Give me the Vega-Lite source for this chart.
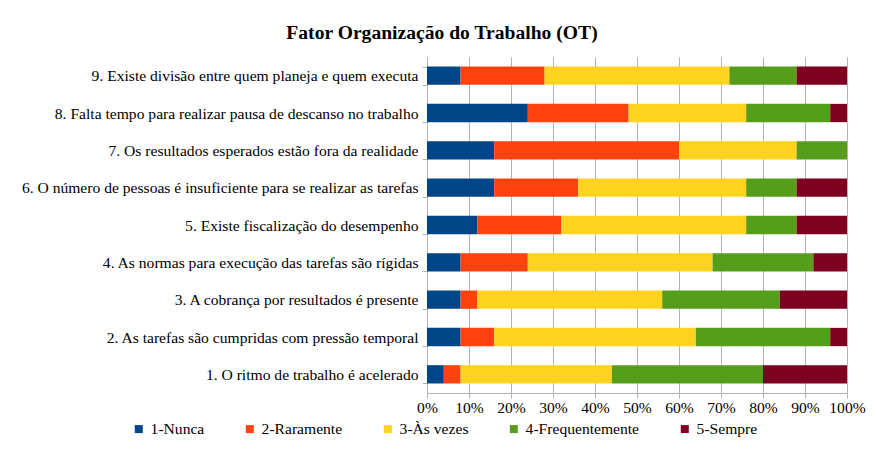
{
  "$schema": "https://vega.github.io/schema/vega-lite/v6.json",
  "autosize": {"type": "none"},
  "width": 420,
  "height": 336,
  "padding": {"left": 427, "top": 57, "right": 34, "bottom": 64},
  "background": "white",
  "title": {
    "text": "Fator Organização do Trabalho (OT)",
    "font": "Liberation Serif",
    "fontSize": 19.6,
    "fontWeight": "bold",
    "color": "black",
    "anchor": "middle",
    "dx": -195,
    "offset": 6
  },
  "data": {
    "values": [
      {"item": "9. Existe divisão entre quem planeja e quem executa", "cat": "1-Nunca", "ordem": 1, "valor": 0.08},
      {"item": "9. Existe divisão entre quem planeja e quem executa", "cat": "2-Raramente", "ordem": 2, "valor": 0.20},
      {"item": "9. Existe divisão entre quem planeja e quem executa", "cat": "3-Às vezes", "ordem": 3, "valor": 0.44},
      {"item": "9. Existe divisão entre quem planeja e quem executa", "cat": "4-Frequentemente", "ordem": 4, "valor": 0.16},
      {"item": "9. Existe divisão entre quem planeja e quem executa", "cat": "5-Sempre", "ordem": 5, "valor": 0.12},
      {"item": "8. Falta tempo para realizar pausa de descanso no trabalho", "cat": "1-Nunca", "ordem": 1, "valor": 0.24},
      {"item": "8. Falta tempo para realizar pausa de descanso no trabalho", "cat": "2-Raramente", "ordem": 2, "valor": 0.24},
      {"item": "8. Falta tempo para realizar pausa de descanso no trabalho", "cat": "3-Às vezes", "ordem": 3, "valor": 0.28},
      {"item": "8. Falta tempo para realizar pausa de descanso no trabalho", "cat": "4-Frequentemente", "ordem": 4, "valor": 0.20},
      {"item": "8. Falta tempo para realizar pausa de descanso no trabalho", "cat": "5-Sempre", "ordem": 5, "valor": 0.04},
      {"item": "7. Os resultados esperados estão fora da realidade", "cat": "1-Nunca", "ordem": 1, "valor": 0.16},
      {"item": "7. Os resultados esperados estão fora da realidade", "cat": "2-Raramente", "ordem": 2, "valor": 0.44},
      {"item": "7. Os resultados esperados estão fora da realidade", "cat": "3-Às vezes", "ordem": 3, "valor": 0.28},
      {"item": "7. Os resultados esperados estão fora da realidade", "cat": "4-Frequentemente", "ordem": 4, "valor": 0.12},
      {"item": "7. Os resultados esperados estão fora da realidade", "cat": "5-Sempre", "ordem": 5, "valor": 0.0},
      {"item": "6. O número de pessoas é insuficiente para se realizar as tarefas", "cat": "1-Nunca", "ordem": 1, "valor": 0.16},
      {"item": "6. O número de pessoas é insuficiente para se realizar as tarefas", "cat": "2-Raramente", "ordem": 2, "valor": 0.20},
      {"item": "6. O número de pessoas é insuficiente para se realizar as tarefas", "cat": "3-Às vezes", "ordem": 3, "valor": 0.40},
      {"item": "6. O número de pessoas é insuficiente para se realizar as tarefas", "cat": "4-Frequentemente", "ordem": 4, "valor": 0.12},
      {"item": "6. O número de pessoas é insuficiente para se realizar as tarefas", "cat": "5-Sempre", "ordem": 5, "valor": 0.12},
      {"item": "5. Existe fiscalização do desempenho", "cat": "1-Nunca", "ordem": 1, "valor": 0.12},
      {"item": "5. Existe fiscalização do desempenho", "cat": "2-Raramente", "ordem": 2, "valor": 0.20},
      {"item": "5. Existe fiscalização do desempenho", "cat": "3-Às vezes", "ordem": 3, "valor": 0.44},
      {"item": "5. Existe fiscalização do desempenho", "cat": "4-Frequentemente", "ordem": 4, "valor": 0.12},
      {"item": "5. Existe fiscalização do desempenho", "cat": "5-Sempre", "ordem": 5, "valor": 0.12},
      {"item": "4. As normas para execução das tarefas são rígidas", "cat": "1-Nunca", "ordem": 1, "valor": 0.08},
      {"item": "4. As normas para execução das tarefas são rígidas", "cat": "2-Raramente", "ordem": 2, "valor": 0.16},
      {"item": "4. As normas para execução das tarefas são rígidas", "cat": "3-Às vezes", "ordem": 3, "valor": 0.44},
      {"item": "4. As normas para execução das tarefas são rígidas", "cat": "4-Frequentemente", "ordem": 4, "valor": 0.24},
      {"item": "4. As normas para execução das tarefas são rígidas", "cat": "5-Sempre", "ordem": 5, "valor": 0.08},
      {"item": "3. A cobrança por resultados é presente", "cat": "1-Nunca", "ordem": 1, "valor": 0.08},
      {"item": "3. A cobrança por resultados é presente", "cat": "2-Raramente", "ordem": 2, "valor": 0.04},
      {"item": "3. A cobrança por resultados é presente", "cat": "3-Às vezes", "ordem": 3, "valor": 0.44},
      {"item": "3. A cobrança por resultados é presente", "cat": "4-Frequentemente", "ordem": 4, "valor": 0.28},
      {"item": "3. A cobrança por resultados é presente", "cat": "5-Sempre", "ordem": 5, "valor": 0.16},
      {"item": "2. As tarefas são cumpridas com pressão temporal", "cat": "1-Nunca", "ordem": 1, "valor": 0.08},
      {"item": "2. As tarefas são cumpridas com pressão temporal", "cat": "2-Raramente", "ordem": 2, "valor": 0.08},
      {"item": "2. As tarefas são cumpridas com pressão temporal", "cat": "3-Às vezes", "ordem": 3, "valor": 0.48},
      {"item": "2. As tarefas são cumpridas com pressão temporal", "cat": "4-Frequentemente", "ordem": 4, "valor": 0.32},
      {"item": "2. As tarefas são cumpridas com pressão temporal", "cat": "5-Sempre", "ordem": 5, "valor": 0.04},
      {"item": "1. O ritmo de trabalho é acelerado", "cat": "1-Nunca", "ordem": 1, "valor": 0.04},
      {"item": "1. O ritmo de trabalho é acelerado", "cat": "2-Raramente", "ordem": 2, "valor": 0.04},
      {"item": "1. O ritmo de trabalho é acelerado", "cat": "3-Às vezes", "ordem": 3, "valor": 0.36},
      {"item": "1. O ritmo de trabalho é acelerado", "cat": "4-Frequentemente", "ordem": 4, "valor": 0.36},
      {"item": "1. O ritmo de trabalho é acelerado", "cat": "5-Sempre", "ordem": 5, "valor": 0.20}
    ]
  },
  "mark": {"type": "bar"},
  "encoding": {
    "y": {
      "field": "item",
      "type": "nominal",
      "title": null,
      "sort": [
        "9. Existe divisão entre quem planeja e quem executa",
        "8. Falta tempo para realizar pausa de descanso no trabalho",
        "7. Os resultados esperados estão fora da realidade",
        "6. O número de pessoas é insuficiente para se realizar as tarefas",
        "5. Existe fiscalização do desempenho",
        "4. As normas para execução das tarefas são rígidas",
        "3. A cobrança por resultados é presente",
        "2. As tarefas são cumpridas com pressão temporal",
        "1. O ritmo de trabalho é acelerado"
      ],
      "scale": {"paddingInner": 0.51, "paddingOuter": 0.255},
      "axis": {
        "tickBand": "extent",
        "labelLimit": 420,
        "labelFont": "Liberation Serif",
        "labelFontSize": 15.6,
        "labelColor": "black",
        "labelPadding": 4,
        "tickSize": 5,
        "tickColor": "#b3b3b3",
        "domainColor": "#b3b3b3",
        "grid": false
      }
    },
    "x": {
      "field": "valor",
      "type": "quantitative",
      "stack": "zero",
      "title": null,
      "scale": {"domain": [0, 1], "nice": false},
      "axis": {
        "format": ".0%",
        "values": [0, 0.1, 0.2, 0.3, 0.4, 0.5, 0.6, 0.7, 0.8, 0.9, 1],
        "labelFont": "Liberation Serif",
        "labelFontSize": 15.6,
        "labelColor": "black",
        "labelPadding": 2,
        "labelFlush": false,
        "tickSize": 5,
        "tickColor": "#b3b3b3",
        "domainColor": "#b3b3b3",
        "grid": true,
        "gridColor": "#b3b3b3",
        "gridOpacity": 1
      }
    },
    "color": {
      "field": "cat",
      "type": "nominal",
      "title": null,
      "scale": {
        "domain": ["1-Nunca", "2-Raramente", "3-Às vezes", "4-Frequentemente", "5-Sempre"],
        "range": ["#004586", "#ff420e", "#ffd320", "#579d1c", "#7e0021"]
      },
      "legend": {
        "orient": "none",
        "direction": "horizontal",
        "legendX": -296,
        "legendY": 364,
        "symbolType": "square",
        "symbolSize": 64,
        "symbolStrokeWidth": 0,
        "symbolOpacity": 1,
        "labelFont": "Liberation Serif",
        "labelFontSize": 15.6,
        "labelColor": "black",
        "labelOffset": 4,
        "columnPadding": 37
      }
    },
    "order": {"field": "ordem", "type": "quantitative"}
  },
  "config": {
    "view": {"stroke": null},
    "bar": {"strokeWidth": 0}
  }
}
